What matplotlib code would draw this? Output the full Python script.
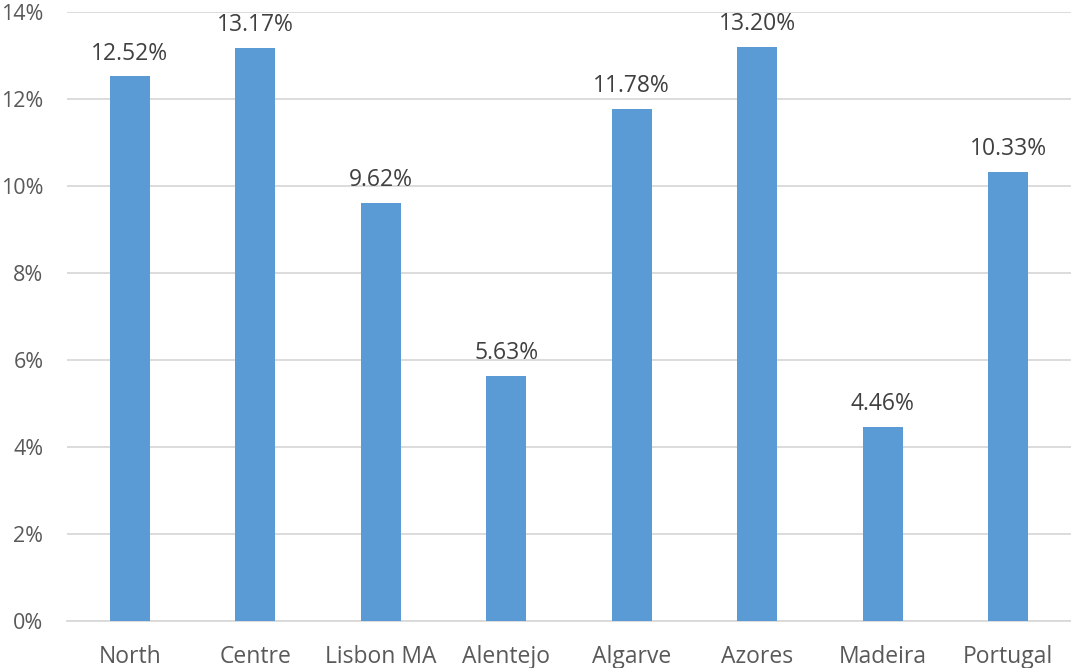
import matplotlib
matplotlib.use("Agg")
import matplotlib.pyplot as plt
from matplotlib.ticker import FuncFormatter

categories = ["North", "Centre", "Lisbon MA", "Alentejo", "Algarve", "Azores", "Madeira", "Portugal"]
values = [12.52, 13.17, 9.62, 5.63, 11.78, 13.20, 4.46, 10.33]
yticks = [0, 2, 4, 6, 8, 10, 12, 14]

plt.rcParams['font.family'] = ['Open Sans', 'DejaVu Sans']
text_color = '#595959'

fig = plt.figure(figsize=(10.71, 6.68), dpi=100)
ax = fig.add_axes([0.0626, 0.0704, 0.9374, 0.9116])

x = list(range(len(categories)))
ax.bar(x, values, width=0.32, color='#5B9BD5', zorder=3)
for xi, v in zip(x, values):
    ax.annotate(f"{v:.2f}%", (xi, v), xytext=(0, 12), textcoords='offset points',
                ha='center', va='baseline', fontsize=16.5, color='#404040')

ax.set_xlim(-0.5, len(categories) - 0.5)
ax.set_ylim(0, 14)
ax.set_yticks(yticks)
ax.yaxis.set_major_formatter(FuncFormatter(lambda v, p: f"{v:.0f}%"))
ax.set_xticks(x)
ax.set_xticklabels(categories)
ax.grid(axis='y', color='#D9D9D9', linewidth=1.3, zorder=0)
for s in ['top', 'right', 'left']:
    ax.spines[s].set_visible(False)
ax.spines['bottom'].set_color('#D9D9D9')
ax.spines['bottom'].set_linewidth(1.3)
ax.tick_params(axis='both', length=0, labelcolor=text_color)
ax.tick_params(axis='y', pad=17, labelsize=15.5)
ax.tick_params(axis='x', pad=17, labelsize=16.5)

fig.savefig("out.png", dpi=100)
